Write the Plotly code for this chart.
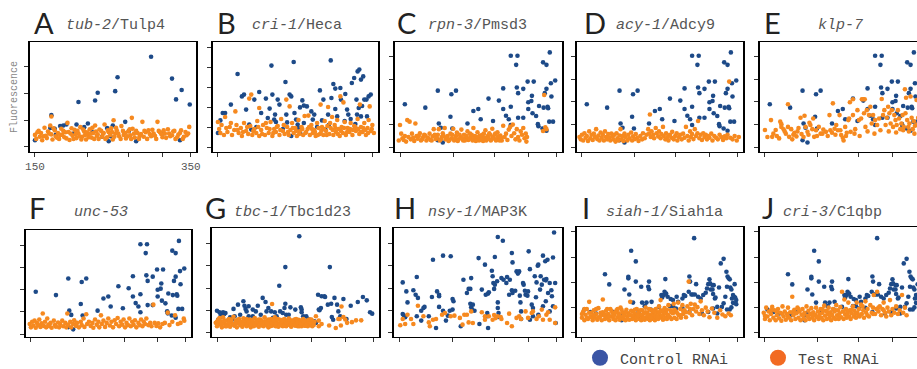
import math
import plotly.graph_objects as go

# ---------------- data ----------------
PANEL_LETTERS = ["A", "B", "C", "D", "E", "F", "G", "H", "I", "J"]
GENES = ["tub-2", "cri-1", "rpn-3", "acy-1", "klp-7", "unc-53", "tbc-1", "nsy-1", "siah-1", "cri-3"]
HOMOLOGS = ["Tulp4", "Heca", "Pmsd3", "Adcy9", "", "", "Tbc1d23", "MAP3K", "Siah1a", "C1qbp"]
SERIES_NAMES = ["Control RNAi", "Test RNAi"]
X_TICKS = [150, 200, 250, 300, 350]
X_TICK_TEXT_A = ["150", "", "", "", "350"]
Y_LABEL = "Fluorescence"

ctrl_A = [(150,0.25),(163,0.71),(164,1.19),(167,0.68),(172,0.78),(175,0.8),(178,0.84),(188,0.84),(190,1.68),
          (196,0.74),(200,0.88),(208,1.74),(211,2.03),(216,0.38),(222,0.71),(224,0.21),(229,0.8),(232,2.09),
          (235,2.61),(245,0.94),(260,0.21),(282,3.38),(316,2.56),(323,1.78),(333,2.13),(330,0.25),(348,1.59),
          (168,0.45),(185,0.5),(205,0.55),(226,0.4),(250,0.6),(300,0.5)]
test_A = [(150,0.45),(151,0.3),(153,0.6),(154,0.38),(155,0.52),(156,0.25),(158,0.72),(159,0.42),(160,0.33),
          (161,0.58),(163,0.8),(164,0.47),(164,1.14),(165,0.28),(167,0.62),(168,0.4),(170,0.52),(171,0.3),
          (173,0.68),(174,0.45),(176,0.36),(177,0.55),(179,0.9),(181,0.26),(182,0.5),(184,0.42),(186,0.64),
          (188,0.33),(190,0.5),(192,0.74),(194,0.38),(196,0.58),(198,0.28),(200,0.46),(202,0.66),(204,0.35),
          (206,0.52),(208,0.8),(210,0.42),(212,0.3),(215,0.6),(217,0.48),(219,0.84),(222,0.36),(224,0.55),
          (227,0.7),(229,0.28),(230,1.0),(232,0.5),(234,0.62),(237,0.4),(240,0.78),(243,0.45),(246,0.32),
          (249,0.58),(252,0.44),(254,1.09),(255,0.68),(258,0.35),(262,0.52),(265,0.4),(269,0.94),(272,0.6),
          (276,0.3),(280,0.48),(284,0.64),(288,0.42),(292,0.94),(296,0.55),(300,0.36),(304,0.5),(309,0.66),
          (313,0.4),(318,0.58),(322,0.3),(327,0.46),(332,0.62),(337,0.38),(342,0.44),(347,0.75),
          (152,0.55),(157,0.4),(162,0.5),(166,0.7),(169,0.35),(172,0.45),(175,0.6),(178,0.32),(180,0.56),
          (183,0.7),(185,0.3),(187,0.48),(189,0.6),(191,0.4),(193,0.28),(195,0.65),(197,0.45),(199,0.55),
          (201,0.36),(203,0.5),(205,0.72),(207,0.3),(209,0.58),(211,0.47),(213,0.65),(216,0.38),(218,0.52),
          (220,0.3),(223,0.62),(226,0.45),(228,0.56),(231,0.38),(233,0.72),(236,0.5),(239,0.3),(242,0.6),
          (245,0.52),(248,0.4),(251,0.66),(253,0.3),(257,0.5),(260,0.6),(264,0.3),(267,0.48),(271,0.38),
          (274,0.55),(278,0.62),(282,0.4),(286,0.5),(290,0.3),(294,0.6),(298,0.48),(302,0.62),(306,0.34),
          (311,0.5),(316,0.44),(320,0.6),(325,0.36),(330,0.52),(335,0.3),(340,0.56),(345,0.5)]

ctrl_B = [(150,0.7),(152,1.33),(154,1.7),(156,1.7),(161,2.12),(167,3.65),(171,2.53),(173,2.62),(175,1.87),
          (178,1.12),(180,0.87),(183,2.37),(188,2.75),(190,1.7),(195,2.42),(197,1.45),(199,1.92),(201,4.07),
          (202,2.62),(204,1.37),(205,1.62),(206,1.25),(208,2.37),(210,2.12),(217,3.25),(218,1.62),(219,1.23),
          (222,2.62),(224,2.53),(224,0.55),(227,4.25),(228,1.7),(230,1.37),(232,1.12),(233,0.95),(235,0.73),
          (235,1.98),(238,2.33),(240,2.07),(244,2.03),(250,1.78),(252,1.37),(254,1.62),(262,2.83),(265,1.33),
          (267,2.37),(270,0.87),(274,1.62),(278,4.33),(279,2.45),(282,3.15),(285,2.92),(285,1.9),(288,1.53),
          (293,2.95),(294,2.37),(301,2.65),(304,1.87),(306,1.62),(312,3.2),(316,3.45),(320,2.37),(322,3.78),
          (325,3.87),(328,3.37),(332,3.53),(321,1.62),(324,1.95),(328,1.53),(334,2.37),(338,2.37),(339,1.53),
          (342,2.53),(346,2.62),(330,2.05),(185,1.0),(214,0.9),(240,1.2),(258,1.0),(275,1.1),(300,1.3),
          (318,1.15),(310,1.4)]
test_B = [(150,1.25),(151,0.9),(153,1.1),(155,0.6),(156,1.5),(158,0.75),(160,1.0),(162,0.6),(164,0.85),
          (165,1.78),(166,1.1),(168,0.7),(170,0.95),(171,0.55),(173,1.2),(175,0.8),(177,0.65),(178,2.42),
          (179,1.05),(180,2.62),(181,0.6),(183,0.9),(185,0.7),(186,1.3),(188,1.95),(188,0.55),(190,0.85),
          (192,1.1),(194,0.6),(196,0.95),(198,0.7),(200,1.25),(202,0.55),(204,0.9),(206,0.75),(208,1.05),
          (210,0.6),(212,1.4),(214,0.8),(216,0.65),(218,2.37),(219,1.0),(221,0.6),(222,2.03),(223,0.85),
          (225,1.2),(227,0.7),(229,0.95),(231,0.55),(233,1.35),(235,0.8),(237,1.0),(239,0.6),(241,1.55),
          (243,0.75),(245,0.9),(246,1.57),(248,0.6),(250,1.1),(252,0.7),(254,0.85),(256,0.55),(258,1.2),
          (260,0.95),(262,0.65),(263,2.12),(265,1.0),(267,0.6),(269,1.3),(271,0.8),(273,1.05),(274,2.0),
          (276,0.65),(278,0.95),(280,1.5),(282,0.6),(284,1.1),(286,0.75),(288,1.35),(290,0.9),(292,0.55),
          (293,2.53),(295,1.0),(297,0.7),(298,2.23),(300,1.25),(302,0.6),(305,0.95),(308,0.75),(310,1.2),
          (313,0.6),(316,1.05),(319,0.8),(322,1.4),(325,0.65),(326,2.12),(328,1.0),(331,0.75),(334,1.2),
          (337,0.6),(340,0.95),(342,1.35),(344,2.03),(346,0.8),(349,1.1),(352,0.7),
          (152,0.7),(157,0.95),(161,1.2),(167,0.85),(172,0.75),(176,1.0),(182,0.8),(187,1.0),(191,0.65),
          (195,1.2),(199,0.9),(203,0.7),(207,1.0),(211,0.85),(215,1.1),(220,0.75),(226,0.95),(230,0.8),
          (234,0.65),(238,0.9),(242,0.7),(247,1.0),(251,0.9),(255,0.75),(259,0.6),(264,0.8),(268,0.9),
          (272,0.6),(277,1.2),(281,0.85),(285,0.95),(289,0.65),(294,0.8),(299,0.95),(304,0.75),(309,0.9),
          (314,0.85),(318,1.0),(323,0.9),(327,0.75),(332,0.95),(336,0.85),(341,0.7),(348,0.9)]

# one control set is shared by panels C, D, E and F
ctrl_CDEF = [(154,1.9),(172,1.75),(184,2.5),(185,1.05),(187,0.86),(184,0.31),(189,0.21),(197,1.35),(198,2.34),
             (203,2.5),(199,0.83),(216,1.05),(223,1.6),(229,1.69),(232,1.24),(242,2.15),(248,1.16),(256,2.06),
             (262,1.69),(262,2.6),(266,1.39),(270,1.24),(273,0.98),(273,1.79),(273,4.04),(283,4.04),(281,3.64),
             (282,2.64),(284,2.39),(284,1.3),(292,2.58),(299,2.9),(309,2.9),(292,1.3),(300,1.69),(300,1.99),
             (305,2.04),(306,2.27),(307,1.5),(313,1.38),(318,1.82),(317,0.93),(316,1.02),(325,3.75),(331,3.64),
             (337,4.19),(328,2.39),(331,2.58),(339,2.83),(340,2.24),(333,1.79),(334,1.72),(326,1.75),(336,1.13),
             (343,1.13),(347,2.95),(324,0.83),(331,0.73)]
test_C = [(149,0.3),(150,0.98),(151,0.6),(152,0.4),(154,0.5),(155,0.25),(156,1.2),(157,0.45),(158,1.13),
          (159,0.35),(160,0.6),(162,0.28),(163,1.05),(164,0.5),(165,0.38),(167,0.62),(168,0.3),(170,0.45),
          (171,0.55),(173,0.3),(174,0.42),(176,0.6),(177,0.32),(179,0.48),(180,0.8),(182,0.36),(184,0.55),
          (185,0.8),(186,0.3),(188,0.45),(189,0.62),(191,0.85),(192,0.35),(194,0.5),(195,0.28),(197,0.6),
          (198,0.4),(200,0.82),(201,0.3),(203,0.5),(204,0.65),(206,0.35),(208,0.45),(209,0.78),(211,0.3),
          (212,0.55),(214,0.4),(216,0.7),(217,0.32),(219,0.6),(220,0.45),(222,0.3),(223,0.85),(225,0.5),
          (227,0.38),(228,0.66),(230,0.3),(231,0.52),(233,0.42),(235,0.28),(236,0.6),(238,0.75),(240,0.35),
          (241,0.5),(243,0.62),(245,0.3),(247,0.82),(248,0.45),(250,0.55),(252,0.3),(254,0.66),(256,0.4),
          (258,0.52),(260,0.3),(262,0.95),(264,0.45),(266,0.6),(268,0.32),(270,0.78),(272,0.9),(274,0.5),
          (276,1.0),(278,0.62),(280,0.35),(282,0.8),(284,0.45),(286,0.3),(288,0.7),(290,0.55),(292,0.85),
          (294,0.4),(296,0.6),(297,0.25),(298,0.45),(325,0.72),(327,2.31),(329,0.88),(331,0.8),
          (153,0.32),(161,0.42),(166,0.5),(169,0.35),(172,0.52),(175,0.4),(178,0.3),(181,0.55),(183,0.42),
          (187,0.35),(190,0.5),(193,0.42),(196,0.32),(199,0.55),(202,0.4),(205,0.28),(207,0.55),(210,0.4),
          (213,0.3),(215,0.5),(218,0.38),(221,0.55),(224,0.4),(226,0.28),(229,0.45),(232,0.35),(234,0.55),
          (237,0.42),(239,0.3),(242,0.4),(244,0.55),(246,0.35),(249,0.4),(251,0.6),(253,0.35),(255,0.48),
          (257,0.3),(259,0.42)]
test_D = [(148,0.45),(149,0.35),(150,0.55),(151,0.3),(152,0.62),(153,0.42),(154,0.5),(155,0.28),(156,0.7),
          (157,0.4),(158,0.55),(159,0.32),(160,0.6),(161,0.45),(162,0.8),(163,0.36),(164,0.52),(165,0.3),
          (166,0.65),(167,0.42),(168,0.55),(169,0.3),(170,0.7),(171,0.45),(172,0.35),(173,0.58),(174,0.42),
          (175,0.3),(176,0.6),(177,0.48),(178,0.35),(179,0.55),(180,0.25),(181,0.62),(182,0.4),(183,0.3),
          (184,0.52),(185,0.8),(186,0.35),(187,0.5),(188,0.28),(189,0.6),(190,0.45),(192,0.3),(193,0.55),
          (194,0.4),(196,0.65),(197,0.3),(198,0.48),(200,0.36),(201,0.58),(203,0.42),(204,0.28),(206,0.5),
          (208,0.35),(209,0.62),(211,0.4),(213,0.55),(215,0.8),(216,0.6),(217,1.45),(218,0.45),(219,0.7),
          (221,0.55),(222,0.4),(224,0.85),(225,0.62),(227,0.48),(228,0.7),(230,0.4),(231,0.58),(233,0.9),
          (234,0.5),(236,0.35),(237,0.62),(239,0.45),(240,0.3),(242,0.55),(244,0.42),(245,0.68),(247,0.35),
          (249,0.5),(251,0.62),(252,0.3),(254,0.45),(256,0.55),(258,0.35),(260,0.6),(262,0.42),(264,0.9),
          (266,0.5),(268,0.3),(270,0.7),(271,0.45),(273,0.58),(275,0.36),(277,0.8),(279,0.5),(281,0.62),
          (282,1.16),(284,0.4),(286,0.55),(288,0.32),(290,0.62),(292,0.45),(294,0.55),(296,0.35),(298,0.5),
          (300,0.42),(303,0.6),(305,0.3),(308,0.5),(311,0.42),(314,0.35),(317,0.55),(320,0.45),(323,0.32),
          (326,0.48),(329,0.4),(331,0.55),(334,2.9),(336,0.42),(340,0.35),(344,0.5),(348,0.3),(352,0.45)]
test_E = [(150,0.76),(152,0.45),(155,1.2),(156,0.46),(159,0.76),(162,0.39),(163,1.13),(164,1.02),(164,0.9),
          (166,0.79),(168,0.6),(170,0.9),(170,1.9),(171,0.46),(173,0.8),(174,0.35),(176,0.64),(178,0.48),
          (180,0.85),(182,1.3),(183,0.58),(186,1.39),(187,0.9),(189,0.68),(191,1.08),(192,0.98),(194,0.8),
          (195,1.27),(196,0.46),(198,0.75),(201,0.9),(203,0.6),(206,0.78),(209,0.68),(213,1.42),(214,0.75),
          (216,0.64),(217,1.94),(219,0.82),(221,0.98),(223,0.75),(225,1.42),(227,0.54),(229,0.42),(230,0.3),
          (232,0.9),(234,0.64),(236,1.2),(237,1.27),(239,0.68),(238,1.99),(242,2.12),(242,1.42),(245,0.8),
          (248,1.64),(250,1.2),(253,1.27),(254,2.12),(256,2.12),(257,1.5),(258,2.12),(259,0.9),(261,1.64),
          (264,1.42),(266,1.79),(268,1.05),(270,1.42),(273,1.2),(276,0.98),(279,1.27),(283,2.13),(285,1.42),
          (287,1.64),(289,0.98),(291,1.3),(293,1.79),(295,1.5),(297,1.05),(299,1.64),(301,0.9),(303,1.42),
          (305,1.2),(307,0.98),(309,1.64),(311,1.27),(313,0.8),(315,1.05),(317,1.42),(319,0.9),(321,2.56),
          (322,1.5),(323,2.19),(325,1.2),(327,0.9),(329,1.05),(331,2.24),(333,1.3),(335,0.8),(337,1.15),
          (339,0.95),(342,2.09),(343,1.0),(345,1.3),
          (157,0.6),(160,0.5),(167,0.7),(175,0.55),(179,0.7),(185,0.45),(190,0.55),(199,0.5),(205,0.6),
          (211,0.5),(220,0.55),(226,0.75),(233,0.5),(244,0.6),(251,0.5),(262,0.7),(272,0.6),(281,0.75),
          (294,0.7),(306,0.65),(318,0.75),(328,0.7),(338,0.6)]
test_F = [(149,0.45),(150,0.3),(151,0.55),(152,0.38),(153,0.6),(154,0.28),(155,0.5),(156,0.4),(157,0.65),
          (158,0.32),(159,0.48),(160,0.92),(161,0.36),(162,0.55),(163,0.3),(164,0.7),(165,0.42),(166,0.35),
          (167,0.5),(168,0.28),(170,0.6),(171,0.4),(172,0.33),(174,0.52),(175,0.3),(176,0.45),(178,0.6),
          (179,0.35),(181,0.5),(182,0.3),(183,0.92),(184,0.42),(186,0.55),(187,0.3),(189,0.45),(190,0.62),
          (192,0.36),(193,0.5),(195,0.3),(197,0.55),(198,0.4),(200,0.7),(201,0.32),(203,0.89),(204,0.45),
          (206,0.55),(208,0.36),(210,0.5),(211,0.28),(213,0.65),(215,0.42),(217,0.55),(218,0.3),(220,0.84),
          (221,0.45),(223,0.6),(225,0.32),(227,0.5),(229,0.7),(231,0.38),(233,0.55),(235,0.3),(237,0.62),
          (239,0.45),(241,0.72),(243,0.35),(245,0.55),(247,0.42),(249,0.65),(251,0.3),(253,0.5),(255,0.4),
          (257,0.7),(259,0.35),(261,0.55),(263,0.42),(265,0.62),(267,0.3),(270,0.5),(272,0.4),(274,0.65),
          (276,0.35),(278,0.55),(280,0.45),(282,0.7),(285,0.4),(288,0.5),(290,0.35),(293,1.32),(295,0.5),
          (298,0.36),(301,0.48),(304,0.3),(308,0.45),(312,0.5),(317,0.96),(320,0.4),(325,0.55),(330,0.84),
          (335,0.45),(340,0.5),(346,0.69),(347,0.6)]

ctrl_G = [(150,0.99),(151,0.59),(152,0.92),(153,0.81),(155,0.92),(156,0.84),(157,0.89),(164,1.07),(168,1.26),
          (173,1.41),(174,1.21),(175,1.07),(165,0.74),(170,0.81),(178,0.74),(182,1.04),(182,0.74),(187,1.21),
          (192,1.56),(195,1.38),(198,1.11),(201,0.96),(205,0.92),(207,0.74),(210,2.1),(217,2.93),(217,1.3),
          (218,0.81),(221,0.81),(223,1.14),(229,1.04),(234,4.3),(236,1.14),(237,1.04),(237,0.92),(239,0.74),
          (243,0.74),(245,0.62),(248,0.59),(254,0.52),(256,0.44),(259,1.7),(260,1.04),(261,1.01),(263,1.11),
          (264,1.63),(268,1.63),(269,1.6),(273,1.26),(276,2.93),(278,1.3),(279,0.71),(281,0.59),(283,1.56),
          (287,1.26),(289,0.96),(292,0.74),(297,1.51),(302,0.62),(309,1.21),(321,1.38),(330,1.6),(337,1.45),
          (343,0.92),(347,0.86),(153,0.7),(161,0.7),(163,0.6),(176,0.96),(178,1.19),(185,0.96),(190,0.81),
          (196,0.96),(203,0.67),(211,0.96),(214,0.89),(216,1.11)]
test_G = [(149,0.45),(150,0.3),(151,0.6),(152,0.38),(153,0.52),(154,0.25),(155,0.7),(156,0.42),(157,0.3),
          (158,0.55),(159,0.36),(160,0.62),(161,0.28),(162,0.48),(163,0.4),(164,0.72),(165,0.32),(166,0.55),
          (167,0.25),(168,0.45),(169,0.62),(170,0.35),(171,0.5),(172,0.28),(173,0.65),(174,0.4),(175,0.55),
          (176,0.3),(177,0.48),(178,0.36),(179,0.6),(180,0.25),(181,0.52),(182,0.42),(183,0.3),(184,0.66),
          (185,0.45),(186,0.35),(187,0.55),(188,0.28),(189,0.48),(190,0.6),(191,0.38),(192,0.5),(193,0.3),
          (194,0.7),(195,0.45),(196,0.36),(197,0.56),(198,0.25),(199,0.5),(200,0.4),(201,0.62),(202,0.32),
          (203,0.5),(204,0.42),(205,0.7),(206,0.3),(207,0.55),(208,0.4),(209,0.28),(210,0.6),(211,0.45),
          (212,0.35),(213,0.55),(214,0.3),(215,0.48),(216,0.62),(217,0.4),(218,0.3),(219,0.52),(220,0.42),
          (221,0.64),(222,0.35),(223,0.5),(224,0.28),(225,0.55),(202,1.29),(227,0.4),(228,0.6),(229,0.32),
          (230,0.5),(231,0.42),(232,0.3),(233,0.58),(234,0.45),(235,0.35),(236,0.55),(237,0.3),(238,0.48),
          (239,0.62),(240,0.4),(241,0.32),(242,0.5),(243,0.38),(244,0.55),(245,0.3),(246,0.45),(247,0.6),
          (248,0.35),(249,0.5),(250,0.4),(251,0.3),(252,0.45),(253,0.35),(254,0.5),(256,0.74),(260,0.55),
          (264,0.4),(275,0.33),(285,0.22),(289,0.62),(291,0.62),(293,0.33),(294,1.18),(297,0.71),(300,0.6),
          (303,0.45),(311,0.48),(318,0.56),(327,0.56),(260,0.3),
          (150,0.5),(152,0.66),(154,0.4),(156,0.55),(158,0.3),(160,0.45),(162,0.6),(164,0.36),(166,0.42),
          (168,0.58),(170,0.48),(172,0.4),(174,0.55),(176,0.62),(178,0.45),(180,0.38),(182,0.58),(184,0.35),
          (186,0.5),(188,0.6),(190,0.4),(192,0.32),(194,0.52),(196,0.45),(198,0.6),(200,0.3),(202,0.45),
          (204,0.55),(206,0.4),(208,0.62),(210,0.35),(212,0.5),(214,0.58),(216,0.32),(218,0.45),(220,0.55),
          (222,0.6),(224,0.4),(226,0.5),(228,0.35),(230,0.62),(232,0.45),(234,0.3),(236,0.42),(238,0.56),
          (240,0.5),(242,0.32),(244,0.42),(246,0.55),(248,0.46),(250,0.6)]

ctrl_H = [(153,2.25),(153,0.84),(154,0.77),(155,0.7),(156,1.85),(157,1.36),(162,1.9),(164,1.7),(165,2.49),
          (166,1.56),(165,0.74),(169,0.99),(171,1.11),(172,1.16),(169,0.55),(176,0.74),(179,1.6),(180,3.26),
          (183,0.22),(184,1.85),(186,1.7),(186,1.63),(186,1.16),(190,3.44),(190,0.99),(193,0.55),(195,0.77),
          (197,0.99),(198,3.41),(200,1.51),(201,1.41),(200,1.04),(209,0.3),(212,2.37),(216,1.78),(218,1.96),
          (221,2.44),(220,1.96),(220,1.3),(221,1.14),(222,1.04),(223,1.26),(225,0.99),(230,3.33),(231,0.4),
          (234,1.93),(238,3.04),(239,1.7),(242,1.75),(243,1.81),(241,0.89),(242,0.22),(241,0.74),(247,2.77),
          (248,2.52),(249,2.22),(250,1.96),(251,2.15),(251,3.38),(254,2.3),(255,4.27),(262,4.1),(255,1.36),
          (255,1.11),(256,0.89),(256,0.71),(260,2.44),(263,2.37),(267,2.22),(268,2.49),(271,1.7),(272,2.37),
          (275,3.56),(276,3.14),(275,1.9),(276,1.78),(280,1.88),(282,2.74),(284,2.64),(285,2.7),(286,2.74),
          (287,1.66),(288,1.36),(289,0.96),(292,2.22),(293,2.15),(295,1.88),(296,1.7),(299,1.66),(300,1.85),
          (301,3.63),(303,2.84),(306,1.26),(308,1.11),(311,2.52),(313,1.59),(314,2.25),(316,2.99),(317,3.04),
          (320,1.93),(321,2.52),(323,2.15),(325,3.44),(327,2.37),(329,3.19),(330,2.34),(331,2.4),(333,3.26),
          (334,1.78),(337,2.22),(340,1.9),(341,1.63),(343,3.36),(345,4.47),(343,1.19),(347,2.22),(348,0.44),
          (337,0.96),(330,1.41),(325,1.19),(317,0.81),(308,0.74),(303,0.59),(289,0.62)]
test_H = [(151,0.34),(153,0.62),(155,0.4),(157,0.81),(160,0.62),(162,0.4),(166,1.21),(171,0.74),(176,0.47),
          (177,0.3),(180,0.59),(183,0.62),(189,0.81),(192,0.89),(198,0.74),(202,0.77),(208,0.67),(211,0.37),
          (213,0.81),(218,0.47),(221,0.96),(223,0.44),(234,0.92),(238,0.74),(238,0.59),(248,0.59),(255,0.74),
          (259,0.71),(260,0.62),(268,0.44),(275,0.3),(271,0.86),(282,0.67),(286,0.74),(289,0.62),(296,0.96),
          (300,0.67),(306,0.89),(308,0.96),(314,0.62),(318,0.74),(323,1.04),(325,0.59),(331,0.81),(334,0.92),
          (337,0.59),(347,1.14),(347,0.44),(216,0.81),(243,0.74),(250,0.8),(252,0.66)]

# one control set is shared by panels I and J
ctrl_IJ = [(152,0.93),(170,2.32),(174,1.92),(196,3.25),(201,2.83),(189,1.72),(193,2.22),(193,2.16),(194,1.52),
           (198,1.2),(201,2.03),(207,1.83),(216,2.03),(215,1.83),(216,1.73),(213,1.2),(231,1.5),(232,1.4),
           (234,1.5),(236,2.13),(235,1.63),(237,1.56),(239,1.43),(243,1.34),(246,1.3),(251,1.43),(253,1.23),
           (259,1.36),(261,1.5),(263,1.46),(269,2.23),(270,2.03),(272,1.52),(274,1.52),(277,1.52),(276,3.75),
           (279,1.93),(268,1.63),(282,1.43),(286,1.36),(290,1.5),(294,1.59),(296,1.76),(298,1.93),(300,2.12),
           (301,1.96),(302,1.72),(305,1.89),(307,1.89),(305,1.72),(306,1.54),(309,1.36),(310,1.4),(313,1.03),
           (316,1.8),(319,2.75),(324,2.93),(327,1.43),(329,2.42),(330,1.83),(331,2.23),(333,2.16),(335,2.12),
           (336,1.8),(338,1.72),(339,1.36),(341,1.5),(341,1.19),(343,1.43),(344,1.93),(345,1.4),(347,1.3),
           (347,1.14),(335,0.93),(338,1.01),(324,1.17),(321,1.03),(330,0.93),(313,0.77),(306,0.97),(298,0.83),
           (288,0.77),(269,0.83),(259,0.99),(250,0.97),(246,1.06),(242,1.06),(228,1.03),(219,1.23),(218,0.93),
           (211,1.06),(208,1.2),(204,0.83),(189,0.79),(186,0.5),(187,0.7),(178,0.83),(173,0.7),(162,0.77),
           (157,0.83)]
test_I = [(150,0.6),(151,0.85),(152,0.5),(153,0.72),(154,0.95),(155,0.55),(156,1.23),(157,0.65),(158,0.8),
          (159,0.5),(160,0.9),(161,0.6),(162,0.75),(163,0.52),(164,0.98),(165,0.62),(166,0.8),(167,0.5),
          (168,1.32),(169,0.7),(170,0.55),(171,0.88),(172,0.6),(173,0.75),(174,0.5),(175,0.95),(176,0.65),
          (177,0.8),(178,0.55),(179,0.72),(180,0.5),(181,0.9),(182,0.62),(183,0.78),(184,0.52),(185,1.0),
          (186,0.6),(187,0.82),(188,0.55),(189,0.7),(190,0.5),(191,0.92),(192,0.65),(193,0.78),(194,0.52),
          (195,1.23),(196,0.7),(197,0.55),(198,0.85),(199,0.6),(200,0.75),(201,0.5),(202,0.95),(203,0.65),
          (204,0.8),(205,0.55),(206,0.7),(207,0.5),(208,0.9),(209,0.62),(210,0.78),(211,0.52),(212,1.0),
          (213,0.6),(214,0.8),(215,0.55),(216,0.72),(217,0.5),(218,0.92),(219,0.65),(220,0.78),(221,0.55),
          (222,0.7),(223,0.5),(224,0.95),(225,0.62),(226,0.82),(227,0.55),(228,1.05),(229,0.7),(230,1.3),
          (231,0.6),(232,0.85),(233,0.52),(234,0.75),(235,0.98),(236,0.6),(237,0.8),(238,0.55),(239,0.72),
          (240,1.1),(242,0.62),(243,0.9),(244,0.55),(246,0.78),(247,1.15),(248,0.6),(250,0.85),(251,0.55),
          (253,1.2),(254,0.7),(256,0.95),(257,0.6),(259,1.1),(260,0.75),(262,0.9),(264,0.62),(266,1.05),
          (268,2.03),(269,0.8),(271,1.15),(273,0.7),(275,0.95),(277,1.12),(279,0.85),(281,1.02),(284,0.75),
          (286,1.25),(288,0.9),(291,0.7),(294,1.0),(297,0.85),(300,0.62),(304,0.97),(308,0.8),(313,0.6),
          (318,0.9),(322,0.73),(327,0.66),(333,0.77),(337,0.7),
          (150,0.75),(152,0.95),(154,0.6),(156,0.8),(158,0.62),(160,0.7),(162,0.95),(164,0.6),(166,0.68),
          (168,0.82),(170,0.72),(172,0.95),(174,0.65),(176,0.88),(178,0.68),(180,0.82),(182,0.95),(184,0.7),
          (186,0.92),(188,0.68),(190,0.82),(192,0.55),(194,0.72),(196,0.88),(198,0.68),(200,0.92),(202,0.62),
          (204,0.7),(206,0.9),(208,0.72),(210,0.6),(212,0.82),(214,0.68),(216,0.95),(218,0.62),(220,0.9),
          (222,0.85),(224,0.7),(226,0.65),(228,0.8),(230,0.9),(232,0.68),(234,0.88),(236,0.78),(238,0.92),
          (240,0.7),(244,0.82),(248,0.92),(252,0.78),(256,0.7),(260,0.88),(264,0.82),(270,0.95)]
test_J = [(149,0.8),(150,0.55),(151,1.0),(152,0.65),(153,0.85),(154,0.5),(155,0.75),(156,1.03),(157,0.6),
          (158,0.9),(159,0.5),(160,0.7),(161,0.95),(162,0.58),(163,0.8),(164,0.48),(165,1.05),(166,0.65),
          (167,0.85),(168,0.52),(169,0.75),(170,1.0),(171,0.6),(172,0.82),(173,0.5),(174,1.43),(175,0.7),
          (176,0.92),(177,0.55),(178,0.78),(179,1.0),(180,0.6),(181,0.85),(182,0.5),(183,0.72),(184,0.95),
          (185,0.58),(186,0.8),(187,0.5),(188,1.05),(189,0.68),(190,0.88),(191,0.55),(192,0.75),(193,0.98),
          (194,0.6),(195,0.82),(196,0.5),(197,0.72),(198,1.0),(199,0.62),(200,0.85),(201,0.55),(202,0.75),
          (203,0.95),(204,0.6),(205,0.8),(206,0.5),(207,1.08),(208,0.68),(209,0.88),(210,0.55),(211,0.75),
          (212,1.0),(213,0.6),(214,0.82),(215,0.5),(216,0.72),(217,0.95),(218,0.6),(219,0.85),(220,0.55),
          (221,1.1),(222,0.7),(223,0.9),(224,0.55),(225,0.78),(226,1.02),(227,0.62),(228,1.63),(229,0.85),
          (230,0.55),(231,1.32),(232,0.72),(233,0.95),(234,0.6),(235,0.82),(236,1.2),(237,0.65),(238,0.9),
          (239,0.55),(240,0.78),(242,1.05),(243,0.65),(244,0.88),(246,0.6),(247,1.2),(248,0.8),(250,0.95),
          (251,0.65),(253,1.12),(254,0.75),(256,0.9),(257,0.6),(259,1.25),(260,0.8),(262,0.95),(264,0.65),
          (266,1.1),(268,0.8),(270,1.0),(271,1.5),(273,0.75),(275,0.95),(276,1.63),(278,0.85),(280,1.05),
          (282,0.7),(284,0.95),(286,1.2),(288,0.8),(290,0.65),(292,1.0),(294,0.85),(296,1.3),(298,0.7),
          (300,0.95),(303,0.8),(306,1.05),(309,0.75),(312,0.9),(316,1.5),(318,0.8),(321,1.0),(324,0.7),
          (150,0.68),(155,0.9),(160,0.85),(165,0.75),(170,0.65),(175,0.85),(180,0.95),(185,0.72),(190,0.62),
          (195,0.68),(200,0.65),(205,0.95),(210,0.85),(215,0.7),(220,0.9),(225,0.62),(230,0.85),(235,0.68),
          (240,0.92),(245,0.75),(250,0.7),(255,1.05),(262,0.7),(270,0.75),(278,1.0),(286,0.9)]

CONTROLS = [ctrl_A, ctrl_B, ctrl_CDEF, ctrl_CDEF, ctrl_CDEF, ctrl_CDEF, ctrl_G, ctrl_H, ctrl_IJ, ctrl_IJ]
TESTS = [test_A, test_B, test_C, test_D, test_E, test_F, test_G, test_H, test_I, test_J]

# ---------------- layout / styling ----------------
W, H = 917, 369
BLUE = "#1d4a88"
ORANGE = "#f6891f"
LEG_BLUE = "#3a55a5"
LEG_ORANGE = "#f26a22"
MONO = "Liberation Mono, Courier New, monospace"
SANS = "Lato, Open Sans, sans-serif"

# plot boxes in pixels: (left, right, top, bottom)
BOXES = [(30, 196, 42, 152), (213, 378, 42, 152), (395, 562, 42, 152), (577, 743, 42, 152), (760, 926, 42, 152),
         (26, 191, 230, 337), (212, 379, 228, 337), (394, 562, 228, 337), (577, 743, 227, 337), (760, 926, 227, 337)]
Y_RANGES = [(-0.19, 3.93), (-0.25, 5.25), (-0.21, 4.65), (-0.21, 4.65), (-0.21, 4.65),
            (-0.135, 4.68), (-0.18, 4.67), (-0.18, 4.67), (-0.16, 4.19), (-0.16, 4.19)]
Y_TICK_COUNT = [4, 6, 5, 5, 5, 5, 5, 5, 5, 5]
LETTER_POS = [(32, 22.5), (215, 22.5), (395, 22.5), (582, 22.5), (762, 22.5),
              (27, 207.5), (203, 207.5), (392, 207.5), (580, 207.5), (760, 207.5)]
TITLE_POS = [(115, 25.5), (297, 25.5), (478, 25.5), (665, 25.5), (840, 25.5),
             (101, 212.5), (292, 212.5), (478, 212.5), (664, 212.5), (832, 212.5)]
X_MIN, X_MAX = 146.0, 360.0

fig = go.Figure()
layout_axes = {}
annotations = []

for i in range(10):
    k = "" if i == 0 else str(i + 1)
    left, right, top, bottom = BOXES[i]
    clipped = right > W
    vis_right = min(right, W)
    lo = math.log10(X_MIN)
    span = math.log10(X_MAX) - lo
    hi = lo + span * (vis_right - left) / (right - left)

    ctrl, test = CONTROLS[i], TESTS[i]
    fig.add_trace(go.Scatter(x=[p[0] for p in ctrl], y=[p[1] for p in ctrl], mode="markers",
                             marker=dict(color=BLUE, size=4.6, line=dict(width=0)),
                             xaxis="x" + k, yaxis="y" + k, showlegend=False, hoverinfo="skip",
                             name=SERIES_NAMES[0]))
    fig.add_trace(go.Scatter(x=[p[0] for p in test], y=[p[1] for p in test], mode="markers",
                             marker=dict(color=ORANGE, size=4.6, line=dict(width=0)),
                             xaxis="x" + k, yaxis="y" + k, showlegend=False, hoverinfo="skip",
                             name=SERIES_NAMES[1]))

    xa = dict(type="log", range=[lo, hi], domain=[left / W, vis_right / W], anchor="y" + k,
              showline=True, linecolor="black", linewidth=1, mirror=True,
              ticks="outside", ticklen=4, tickwidth=1, tickcolor="#333",
              tickvals=X_TICKS, showgrid=False, zeroline=False, fixedrange=True, automargin=False)
    if i == 0:
        xa.update(ticktext=X_TICK_TEXT_A, showticklabels=True,
                  tickfont=dict(family=MONO, size=11, color="#555"))
    else:
        xa.update(showticklabels=False)
    ya = dict(range=list(Y_RANGES[i]), domain=[1 - bottom / H, 1 - top / H], anchor="x" + k,
              showline=True, linecolor="black", linewidth=1.6, mirror=(not clipped),
              ticks="outside", ticklen=4, tickwidth=1, tickcolor="#333",
              tickvals=list(range(Y_TICK_COUNT[i])), showticklabels=False,
              showgrid=False, zeroline=False, fixedrange=True, automargin=False)
    layout_axes["xaxis" + k] = xa
    layout_axes["yaxis" + k] = ya

    lx, ly = LETTER_POS[i]
    annotations.append(dict(text=PANEL_LETTERS[i], x=lx / W, y=1 - ly / H, xref="paper", yref="paper",
                            xanchor="left", yanchor="middle", showarrow=False,
                            font=dict(family=SANS, size=29, color="#222")))
    title = "<i>%s</i>" % GENES[i] + ("/" + HOMOLOGS[i] if HOMOLOGS[i] else "")
    tx, ty = TITLE_POS[i]
    annotations.append(dict(text=title, x=tx / W, y=1 - ty / H, xref="paper", yref="paper",
                            xanchor="center", yanchor="middle", showarrow=False,
                            font=dict(family=MONO, size=15, color="#555")))

annotations.append(dict(text=Y_LABEL, x=14 / W, y=1 - 97 / H, xref="paper", yref="paper",
                        xanchor="center", yanchor="middle", textangle=-90, showarrow=False,
                        font=dict(family=MONO, size=10, color="#888")))

# legend-only traces (large symbols as in the reference)
fig.add_trace(go.Scatter(x=[None], y=[None], mode="markers", name=SERIES_NAMES[0],
                         marker=dict(color=LEG_BLUE, size=16), showlegend=True))
fig.add_trace(go.Scatter(x=[None], y=[None], mode="markers", name=SERIES_NAMES[1],
                         marker=dict(color=LEG_ORANGE, size=16), showlegend=True))

fig.update_layout(
    width=W, height=H, margin=dict(l=0, r=0, t=0, b=0, autoexpand=False),
    paper_bgcolor="white", plot_bgcolor="white",
    annotations=annotations,
    legend=dict(orientation="h", x=580 / W, y=1 - 358 / H, xanchor="left", yanchor="middle",
                font=dict(family=MONO, size=15, color="#444"), bgcolor="rgba(0,0,0,0)",
                entrywidth=133, entrywidthmode="pixels", itemsizing="trace"),
    **layout_axes,
)

# the page's default 8px body margin would offset the whole figure; remove it
fig.write_html("out.html", config={"displayModeBar": False, "staticPlot": False},
               post_script="document.body.style.margin='0';document.body.style.overflow='hidden';")
